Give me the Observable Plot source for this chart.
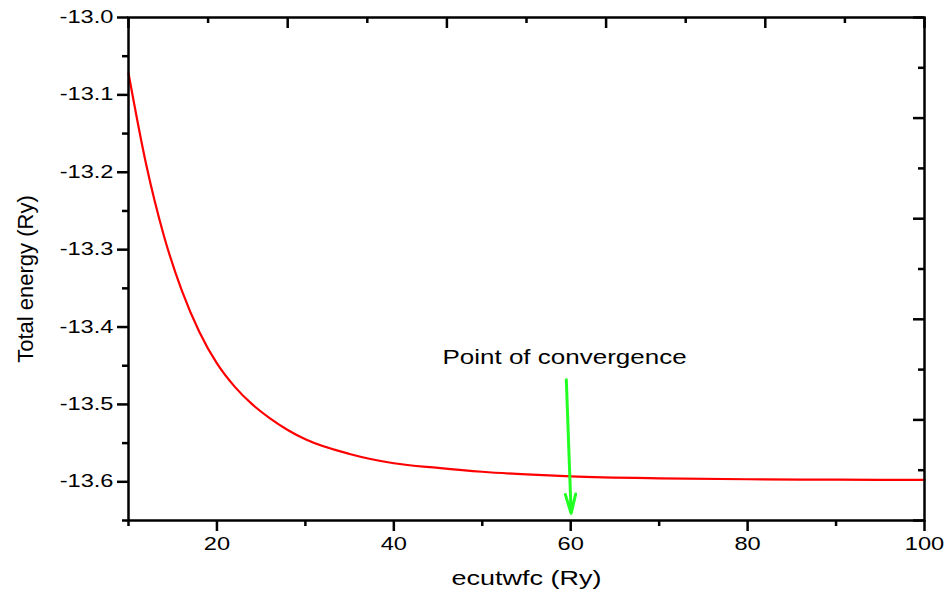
<!DOCTYPE html>
<html>
<head>
<meta charset="utf-8">
<script src="https://cdn.jsdelivr.net/npm/d3@7"></script>
<script src="https://cdn.jsdelivr.net/npm/@observablehq/plot@0.6"></script>
<style>
  html, body { margin: 0; padding: 0; background: #fff; }
</style>
</head>
<body>
<div id="chart"></div>
<script>
// Convergence test: total energy versus plane-wave cutoff
const ecutwfc = [10, 12, 14, 16, 18, 20, 22, 24, 26, 28, 30, 35, 40, 45, 50, 55, 60, 70, 80, 90, 100];
const totalEnergy = [-13.072, -13.190, -13.282, -13.352, -13.406, -13.447, -13.477, -13.500, -13.518, -13.533, -13.545,
                     -13.564, -13.576, -13.582, -13.587, -13.5905, -13.593, -13.5955, -13.5967, -13.5973, -13.5975];

const xDomain = [10, 100];
const yDomain = [-13.65, -13.0];
const xMajorTicks = [20, 40, 60, 80, 100];
const xMinorTicks = [10, 30, 50, 70, 90];
const yMajorTicks = [-13.0, -13.1, -13.2, -13.3, -13.4, -13.5, -13.6];
const yMinorTicks = [-13.05, -13.15, -13.25, -13.35, -13.45, -13.55, -13.65];

const xTitle = "ecutwfc (Ry)";
const yTitle = "Total energy (Ry)";
const noteText = "Point of convergence";
const notePos = {x: 59.3, y: -13.44};
const arrowSeg = [{x1: 59.5, y1: -13.468, x2: 60.05, y2: -13.641}];

const W = 948, H = 592;
const mL = 128, mR = 24, mT = 17, mB = 72;
const innerW = W - mL - mR, innerH = H - mT - mB;

// Opposite (top / right) edges carry ten equal divisions of the frame
const divisions = d3.range(0, 11);
const topTicks = divisions.map(k => ({v: xDomain[0] + k * (xDomain[1] - xDomain[0]) / 10, major: k % 2 === 0}));
const rightTicks = divisions.map(k => ({v: yDomain[1] + k * (yDomain[0] - yDomain[1]) / 10, major: k % 2 === 0}));

const series = ecutwfc.map((x, i) => ({x, y: totalEnergy[i]}));

const chart = Plot.plot({
  width: W, height: H,
  marginLeft: mL, marginRight: mR, marginTop: mT, marginBottom: mB,
  style: {fontFamily: "'Liberation Sans', Arial, sans-serif", fontSize: "17.5px", color: "#000", background: "#fff", overflow: "visible"},
  x: {domain: xDomain},
  y: {domain: yDomain},
  marks: [
    Plot.line(series, {x: "x", y: "y", stroke: "#ff0000", strokeWidth: 2.2, curve: "monotone-x"}),
    Plot.arrow(arrowSeg, {x1: "x1", y1: "y1", x2: "x2", y2: "y2", stroke: "#22ff22", strokeWidth: 3, headLength: 10, headAngle: 30}),
    Plot.text([noteText], {x: notePos.x, y: notePos.y, text: d => d, fontSize: 20, fill: "#000"}),
    Plot.axisX({ticks: xMajorTicks, tickSize: 11, tickPadding: 6, strokeWidth: 2.5, tickFormat: d => String(d), label: null, fontSize: 17.5}),
    Plot.axisX({ticks: xMinorTicks, tickSize: 6, strokeWidth: 2.5, tickFormat: () => "", label: null}),
    Plot.axisY({ticks: yMajorTicks, tickSize: 11, tickPadding: 4, strokeWidth: 2.5, tickFormat: d => d.toFixed(1), label: null, fontSize: 17.5}),
    Plot.axisY({ticks: yMinorTicks, tickSize: 6, strokeWidth: 2.5, tickFormat: () => "", label: null}),
    Plot.tickX(topTicks.filter(d => d.major), {x: "v", insetBottom: innerH - 11, strokeWidth: 2.5}),
    Plot.tickX(topTicks.filter(d => !d.major), {x: "v", insetBottom: innerH - 6, strokeWidth: 2.5}),
    Plot.tickY(rightTicks.filter(d => d.major), {y: "v", insetLeft: innerW - 11, strokeWidth: 2.5}),
    Plot.tickY(rightTicks.filter(d => !d.major), {y: "v", insetLeft: innerW - 6, strokeWidth: 2.5}),
    Plot.frame({stroke: "#000", strokeWidth: 2.5}),
    Plot.text([xTitle], {frameAnchor: "bottom", dy: 58, lineAnchor: "middle", textAnchor: "middle", text: d => d, fontSize: 20, fill: "#000"}),
    Plot.text([yTitle], {frameAnchor: "left", dx: -103, dy: 10, rotate: -90, textAnchor: "middle", lineAnchor: "middle", text: d => d, fontSize: 22, fill: "#000"})
  ]
});

document.getElementById("chart").appendChild(chart);

// Widen horizontal labels about their anchor, in each label's own coordinates
function widen(texts, s, anchor) {
  texts.forEach(t => {
    const b = t.getBBox();
    const ax = anchor === "end" ? b.x + b.width : b.x + b.width / 2;
    const tr = t.getAttribute("transform") || "";
    t.setAttribute("transform", `${tr} translate(${ax},0) scale(${s},1) translate(${-ax},0)`);
  });
}
widen(chart.querySelectorAll('g[aria-label="x-axis tick label"] text'), 1.35, "middle");
widen(chart.querySelectorAll('g[aria-label="y-axis tick label"] text'), 1.35, "end");
const textGroups = chart.querySelectorAll('g[aria-label="text"]');
if (textGroups[0]) widen(textGroups[0].querySelectorAll("text"), 1.3, "middle");
if (textGroups[1]) widen(textGroups[1].querySelectorAll("text"), 1.35, "middle");
</script>
</body>
</html>
